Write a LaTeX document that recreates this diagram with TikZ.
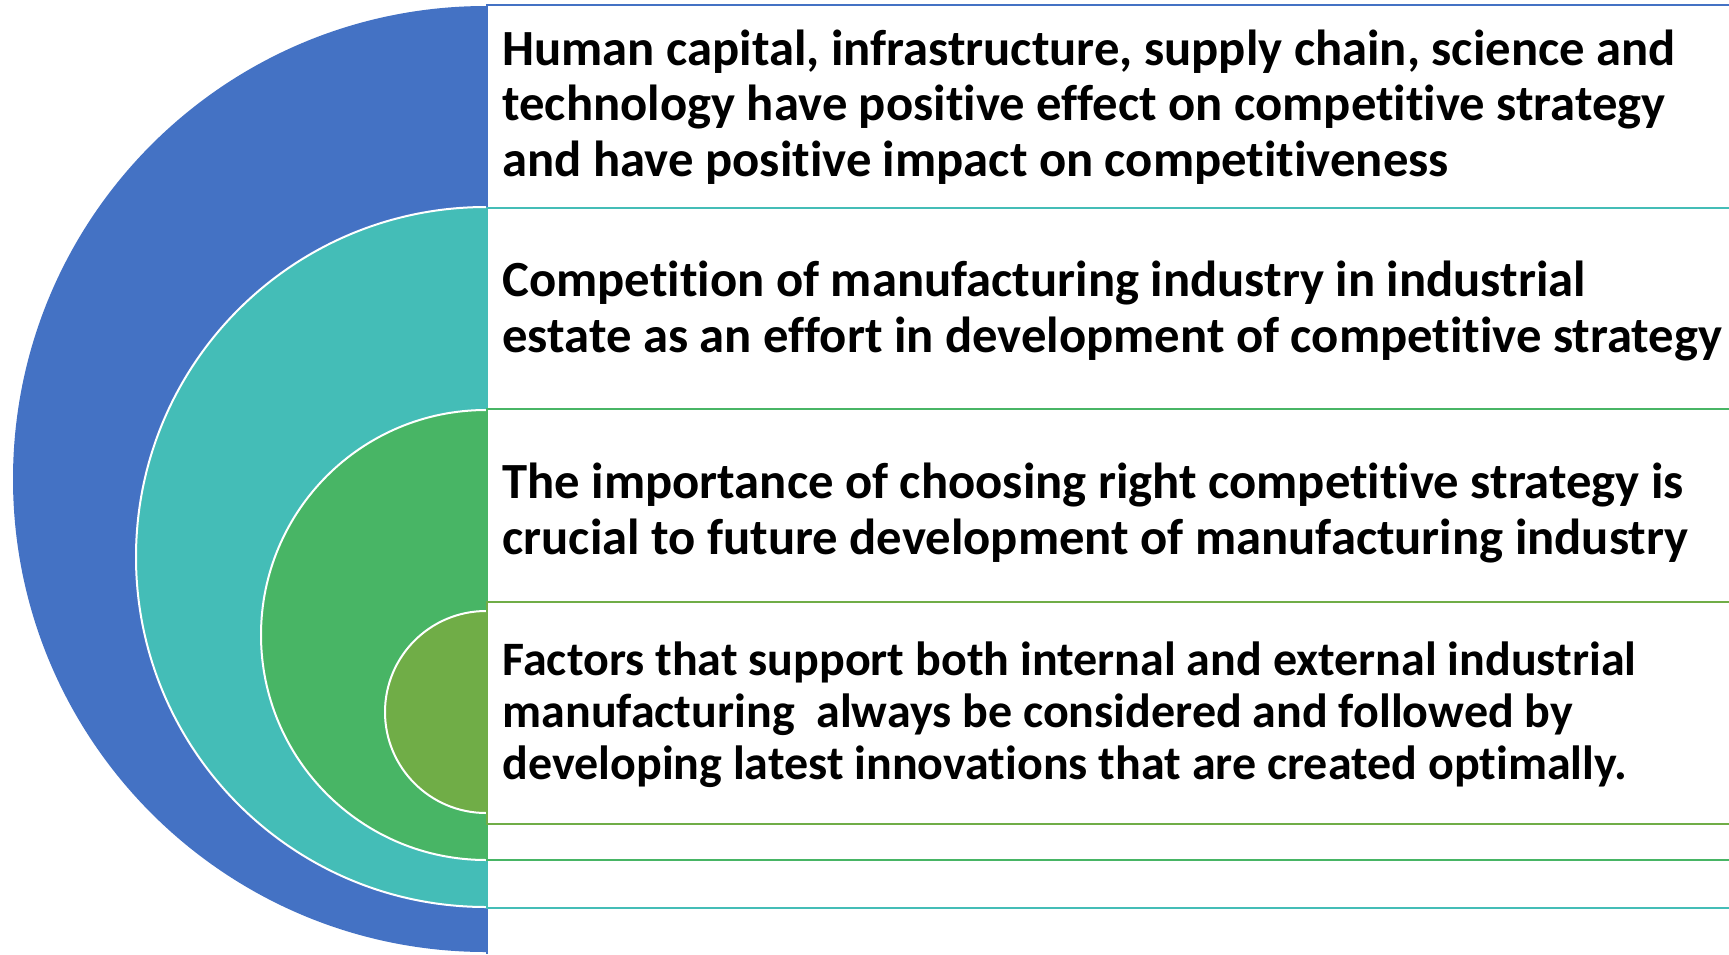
\documentclass[tikz,border=0pt]{standalone}
\usepackage{fontspec}
\setmainfont{Carlito}[Ligatures=NoCommon]
\usepackage{tikz}
\tikzset{every picture/.style={line width=0.75pt}}
\definecolor{ringblue}{RGB}{68,114,196}
\definecolor{ringteal}{RGB}{68,189,183}
\definecolor{ringgreen}{RGB}{72,181,101}
\definecolor{ringolive}{RGB}{112,173,71}
\tikzset{
  boxtext/.style={anchor=west, align=left, inner sep=0pt,
    font=\fontsize{38}{41.6}\selectfont\bfseries},
  boxline/.style={line width=1.5}
}

\begin{document}
\begin{tikzpicture}[x=0.75pt,y=0.75pt,yscale=-1,xscale=1]
\useasboundingbox (0,0) rectangle (1729,954);
%Shape: Half Circle [outer ring]
\fill [ringblue] (486,952) arc [start angle=90,end angle=270,radius=473] -- cycle;
%Straight Lines [outer box]
\draw [ringblue, boxline] (1729,5) -- (487,5) -- (487,954);

%Shape: Half Circle [second ring]
\fill [ringteal] (486,907) arc [start angle=90,end angle=270,radius=350] -- cycle;
\draw [white, line width=1.5] (486,907) arc [start angle=90,end angle=270,radius=350];
%Straight Lines [second box]
\draw [ringteal, boxline] (1729,208) -- (487,208) -- (487,908) -- (1729,908);

%Shape: Half Circle [third ring]
\fill [ringgreen] (486,860) arc [start angle=90,end angle=270,radius=225] -- cycle;
\draw [white, line width=1.5] (486,860) arc [start angle=90,end angle=270,radius=225];
%Straight Lines [third box]
\draw [ringgreen, boxline] (1729,409) -- (487,409) -- (487,860) -- (1729,860);

%Shape: Half Circle [inner ring]
\fill [ringolive] (486,813) arc [start angle=90,end angle=270,radius=101] -- cycle;
\draw [white, line width=1.5] (486,813) arc [start angle=90,end angle=270,radius=101];
%Straight Lines [inner box]
\draw [ringolive, boxline] (1729,602) -- (487,602) -- (487,824) -- (1729,824);

% Text Node
\node [boxtext] (txtA) at (502,107) {Human capital, infrastructure, supply chain, science and\\technology have positive effect on competitive strategy\\and have positive impact on competitiveness};
% Text Node
\node [boxtext] (txtB) at (502,311) {Competition of manufacturing industry in industrial\\estate as an effort in development of competitive strategy};
% Text Node
\node [boxtext] (txtC) at (502,513) {The importance of choosing right competitive strategy is\\crucial to future development of manufacturing industry};
% Text Node
\node [boxtext, font=\fontsize{36}{39}\selectfont\bfseries] (txtD) at (502,715) {Factors that support both internal and external industrial\\manufacturing\ \ always be considered and followed by\\developing latest innovations that are created optimally.};
\end{tikzpicture}
\end{document}
